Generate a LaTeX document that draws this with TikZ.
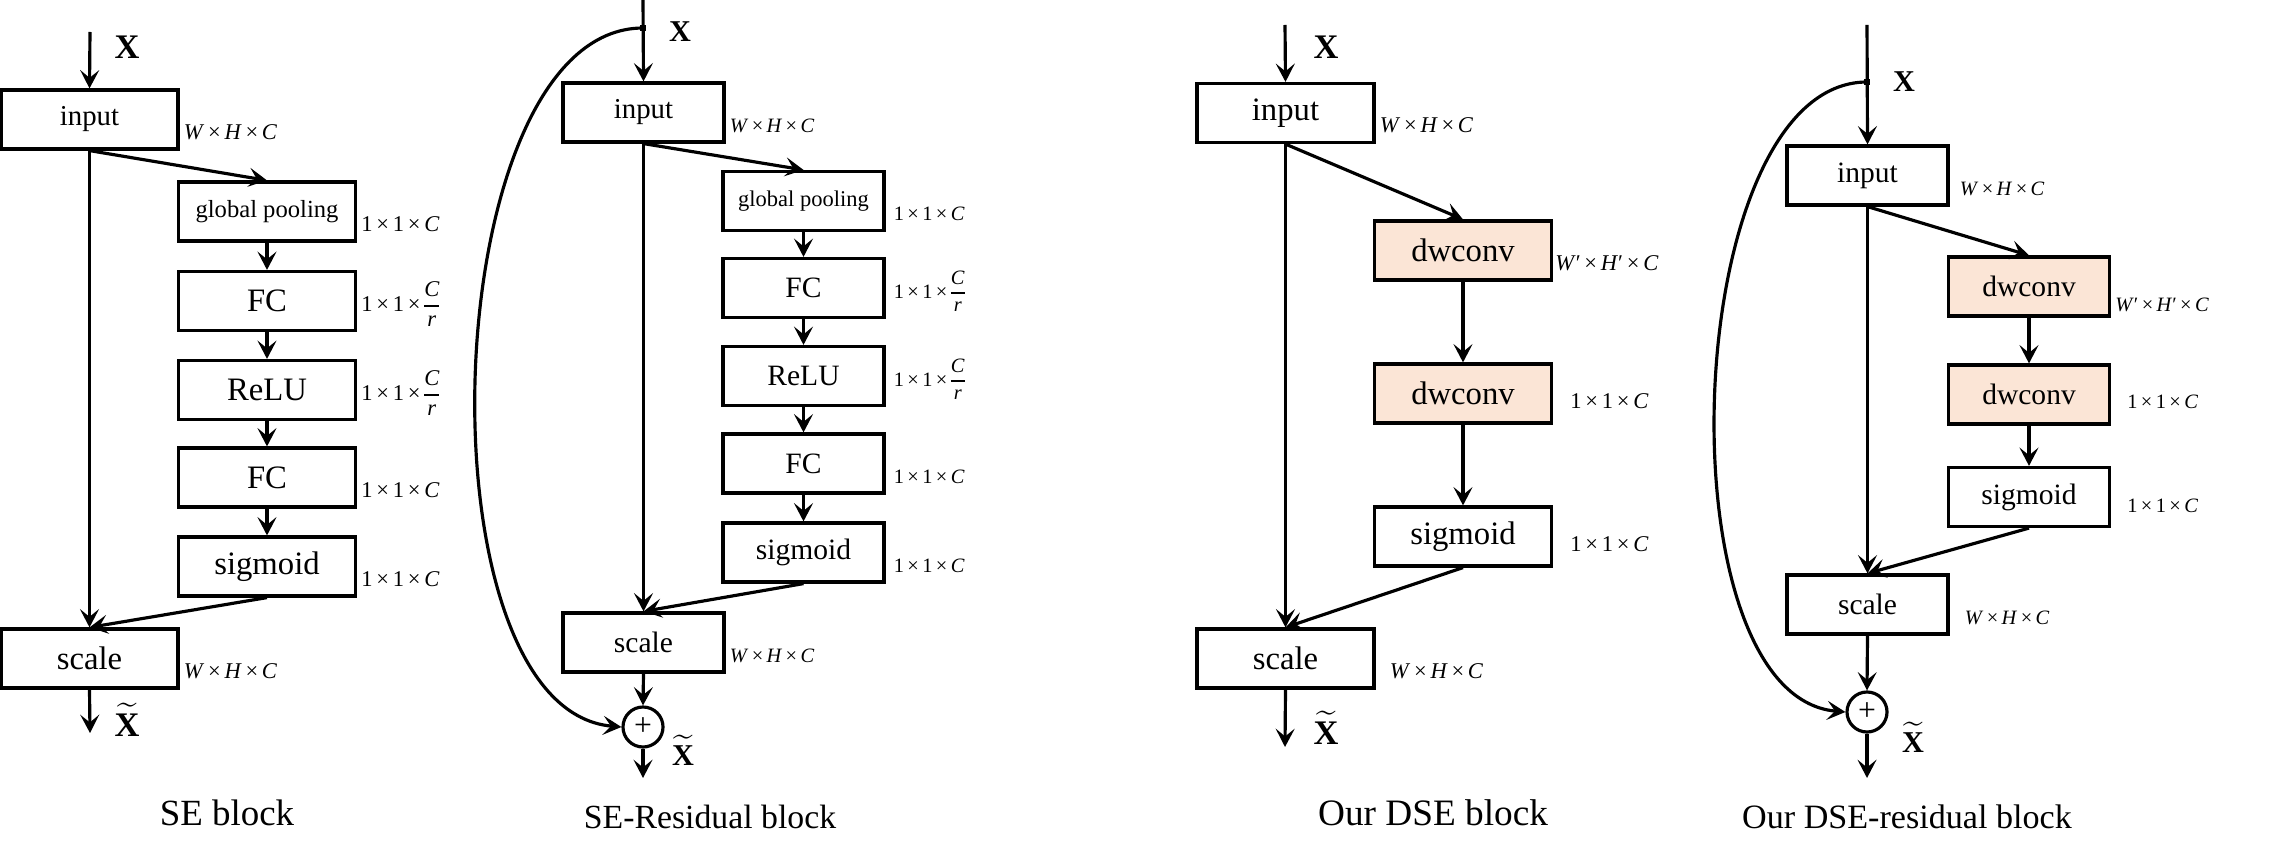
\documentclass[tikz,border=0pt]{standalone}
\usepackage{fix-cm}
\usepackage{fontspec}
\setmainfont{Liberation Serif}
\usetikzlibrary{arrows.meta}
\definecolor{dwfill}{HTML}{FBE5D6}

\newcommand{\whc}{\textit{W}\,×\,\textit{H}\,×\,\textit{C}}
\newcommand{\whcp}{\textit{W}′\,×\,\textit{H}′\,×\,\textit{C}}
\newcommand{\onec}{1\,×\,1\,×\,\textit{C}}
\newcommand{\onecr}{1\,×\,1\,×\,\renewcommand{\arraystretch}{1.1}\begin{tabular}{@{}c@{}}\textit{C}\\\hline\textit{r}\end{tabular}}

\tikzset{
  blk/.style={draw, line width=0.9pt, inner sep=0pt, minimum height=0.59cm},
  dwblk/.style={blk, fill=dwfill},
  dimlbl/.style={anchor=south west, inner sep=1pt, yshift=2pt},
  fraclbl/.style={anchor=west, inner sep=1pt, yshift=-0.05cm},
  sumnode/.style={draw, circle, line width=0.9pt, minimum size=0.4cm, inner sep=0pt, font=\fontsize{9}{10}\selectfont},
  jdot/.style={fill, inner sep=0pt, minimum size=1.5pt},
  flow/.style={line width=0.9pt, -{Stealth[length=5.2pt, width=5.4pt, inset=2.2pt]}},
  wA/.style={minimum width=1.77cm},
  wB/.style={minimum width=1.61cm},
  tA/.style={font=\fontsize{9.3}{11}\selectfont},
  tB/.style={font=\fontsize{8.4}{10}\selectfont},
  tIn/.style={font=\fontsize{8.2}{10}\selectfont},
  mA/.style={font=\fontsize{6.4}{7.2}\selectfont},
  mB/.style={font=\fontsize{5.8}{6.6}\selectfont},
}

\begin{document}
\begin{tikzpicture}[x=0.01cm, y=-0.01cm]
\useasboundingbox (0,0) rectangle (2273,861);

% SE block
\coordinate (top1) at (90,32);
\node[blk, wA, tIn] (in1) at (89.5,119.5) {input};
\node[blk, wA, font=\fontsize{7}{8}\selectfont] (gp1) at (267,211.5) {global pooling};
\node[blk, wA, tA] (fc1) at (267,301) {FC};
\node[blk, wA, tA] (relu1) at (267,390) {ReLU};
\node[blk, wA, tA] (fc1b) at (267,477.5) {FC};
\node[blk, wA, tA] (sig1) at (267,566.5) {sigmoid};
\node[blk, wA, tA] (sc1) at (89.5,658.5) {scale};
\coordinate (out1) at (90,733);

\draw[flow] (top1) -- (in1.north);
\draw[flow] (in1.south) -- (gp1.north);
\draw[flow] (gp1) -- (fc1);
\draw[flow] (fc1) -- (relu1);
\draw[flow] (relu1) -- (fc1b);
\draw[flow] (fc1b) -- (sig1);
\draw[flow] (in1.south) -- (sc1.north);
\draw[flow] (sig1.south) -- (sc1.north);
\draw[flow] (sc1.south) -- (out1);

\node[dimlbl, mA] (d1in) at (in1.south east) {\whc};
\node[dimlbl, mA] (d1gp) at (gp1.south east) {\onec};
\node[fraclbl, mA] (d1fc) at (fc1.east) {\onecr};
\node[fraclbl, mA] (d1relu) at (relu1.east) {\onecr};
\node[dimlbl, mA] (d1fcb) at (fc1b.south east) {\onec};
\node[dimlbl, mA] (d1sig) at (sig1.south east) {\onec};
\node[dimlbl, mA] (d1sc) at (sc1.south east) {\whc};

\node[font=\fontsize{9.8}{11}\selectfont] (x1) at (127,47) {\textbf{X}};
\node[font=\fontsize{9.8}{11}\selectfont] (xt1) at (127,720) {$\widetilde{\textbf{X}}$};
\node[font=\fontsize{10.5}{12}\selectfont] (cap1) at (227,813) {SE block};

% SE-Residual block
\coordinate (top2) at (643,0);
\node[jdot] (jn2) at (643,28) {};
\node[blk, wB, tIn] (in2) at (643.5,112.5) {input};
\node[blk, wB, font=\fontsize{6.4}{7.5}\selectfont] (gp2) at (803.5,201) {global pooling};
\node[blk, wB, tB] (fc2) at (803.5,288) {FC};
\node[blk, wB, tB] (relu2) at (803.5,376) {ReLU};
\node[blk, wB, tB] (fc2b) at (803.5,463.5) {FC};
\node[blk, wB, tB] (sig2) at (803.5,552.5) {sigmoid};
\node[blk, wB, tB] (sc2) at (643.5,642.5) {scale};
\node[sumnode] (sum2) at (643,727) {+};
\coordinate (out2) at (643,778);

\draw[flow] (top2) -- (in2.north);
\draw[flow] (in2.south) -- (gp2.north);
\draw[flow] (gp2) -- (fc2);
\draw[flow] (fc2) -- (relu2);
\draw[flow] (relu2) -- (fc2b);
\draw[flow] (fc2b) -- (sig2);
\draw[flow] (in2.south) -- (sc2.north);
\draw[flow] (sig2.south) -- (sc2.north);
\draw[flow] (sc2.south) -- (sum2.north);
\draw[flow] (sum2.south) -- (out2);
\draw[flow] (jn2.center) to[out=180, in=175, looseness=0.76] (sum2.west);

\node[dimlbl, mB] (d2in) at (in2.south east) {\whc};
\node[dimlbl, mB, xshift=0.04cm] (d2gp) at (gp2.south east) {\onec};
\node[fraclbl, mB, xshift=0.04cm] (d2fc) at (fc2.east) {\onecr};
\node[fraclbl, mB, xshift=0.04cm] (d2relu) at (relu2.east) {\onecr};
\node[dimlbl, mB, xshift=0.04cm] (d2fcb) at (fc2b.south east) {\onec};
\node[dimlbl, mB, xshift=0.04cm] (d2sig) at (sig2.south east) {\onec};
\node[dimlbl, mB] (d2sc) at (sc2.south east) {\whc};

\node[font=\fontsize{8.6}{10}\selectfont] (x2) at (680,32) {\textbf{X}};
\node[font=\fontsize{8.6}{10}\selectfont] (xt2) at (683,750) {$\widetilde{\textbf{X}}$};
\node[font=\fontsize{9.6}{11}\selectfont] (cap2) at (710,817) {SE-Residual block};

% Our DSE block
\coordinate (top3) at (1285,25);
\node[blk, wA, tA] (in3) at (1285.5,113) {input};
\node[dwblk, wA, tA] (dw3) at (1463,250.5) {dwconv};
\node[dwblk, wA, tA] (dw3b) at (1463,393.5) {dwconv};
\node[blk, wA, tA] (sig3) at (1463,536.5) {sigmoid};
\node[blk, wA, tA] (sc3) at (1285.5,658.5) {scale};
\coordinate (out3) at (1285,747);

\draw[flow] (top3) -- (in3.north);
\draw[flow] (in3.south) -- (dw3.north);
\draw[flow] (dw3) -- (dw3b);
\draw[flow] (dw3b) -- (sig3);
\draw[flow] (in3.south) -- (sc3.north);
\draw[flow] (sig3.south) -- (sc3.north);
\draw[flow] (sc3.south) -- (out3);

\node[dimlbl, mA] (d3in) at (in3.south east) {\whc};
\node[dimlbl, mA, xshift=-0.02cm] (d3dw) at (dw3.south east) {\whcp};
\node[dimlbl, mA, xshift=0.13cm, yshift=0.05cm] (d3dwb) at (dw3b.south east) {\onec};
\node[dimlbl, mA, xshift=0.13cm, yshift=0.05cm] (d3sig) at (sig3.south east) {\onec};
\node[dimlbl, mA, xshift=0.1cm] (d3sc) at (sc3.south east) {\whc};

\node[font=\fontsize{9.8}{11}\selectfont] (x3) at (1326,47) {\textbf{X}};
\node[font=\fontsize{9.8}{11}\selectfont] (xt3) at (1326,728) {$\widetilde{\textbf{X}}$};
\node[font=\fontsize{10.6}{12}\selectfont] (cap3) at (1433,813) {Our DSE block};

% Our DSE-residual block
\coordinate (top4) at (1867,25);
\node[jdot] (jn4) at (1867,82) {};
\node[blk, wB, tB] (in4) at (1867.5,175.5) {input};
\node[dwblk, wB, tB] (dw4) at (2029,286.5) {dwconv};
\node[dwblk, wB, tB] (dw4b) at (2029,394.5) {dwconv};
\node[blk, wB, tB] (sig4) at (2029,497) {sigmoid};
\node[blk, wB, tB] (sc4) at (1867.5,604.5) {scale};
\node[sumnode] (sum4) at (1867,712) {+};
\coordinate (out4) at (1867,778);

\draw[flow] (top4) -- (in4.north);
\draw[flow] (in4.south) -- (dw4.north);
\draw[flow] (dw4) -- (dw4b);
\draw[flow] (dw4b) -- (sig4);
\draw[flow] (in4.south) -- (sc4.north);
\draw[flow] (sig4.south) -- (sc4.north);
\draw[flow] (sc4.south) -- (sum4.north);
\draw[flow] (sum4.south) -- (out4);
\draw[flow] (jn4.center) to[out=180, in=175, looseness=0.76] (sum4.west);

\node[dimlbl, mB, xshift=0.06cm] (d4in) at (in4.south east) {\whc};
\node[dimlbl, mB, yshift=-0.05cm] (d4dw) at (dw4.south east) {\whcp};
\node[dimlbl, mB, xshift=0.12cm, yshift=0.06cm] (d4dwb) at (dw4b.south east) {\onec};
\node[dimlbl, mB, xshift=0.12cm, yshift=0.04cm] (d4sig) at (sig4.south east) {\onec};
\node[dimlbl, mB, xshift=0.11cm] (d4sc) at (sc4.south east) {\whc};

\node[font=\fontsize{8.6}{10}\selectfont] (x4) at (1904,82) {\textbf{X}};
\node[font=\fontsize{8.6}{10}\selectfont] (xt4) at (1913,737) {$\widetilde{\textbf{X}}$};
\node[font=\fontsize{9.7}{11}\selectfont] (cap4) at (1907,817) {Our DSE-residual block};

\end{tikzpicture}
\end{document}
